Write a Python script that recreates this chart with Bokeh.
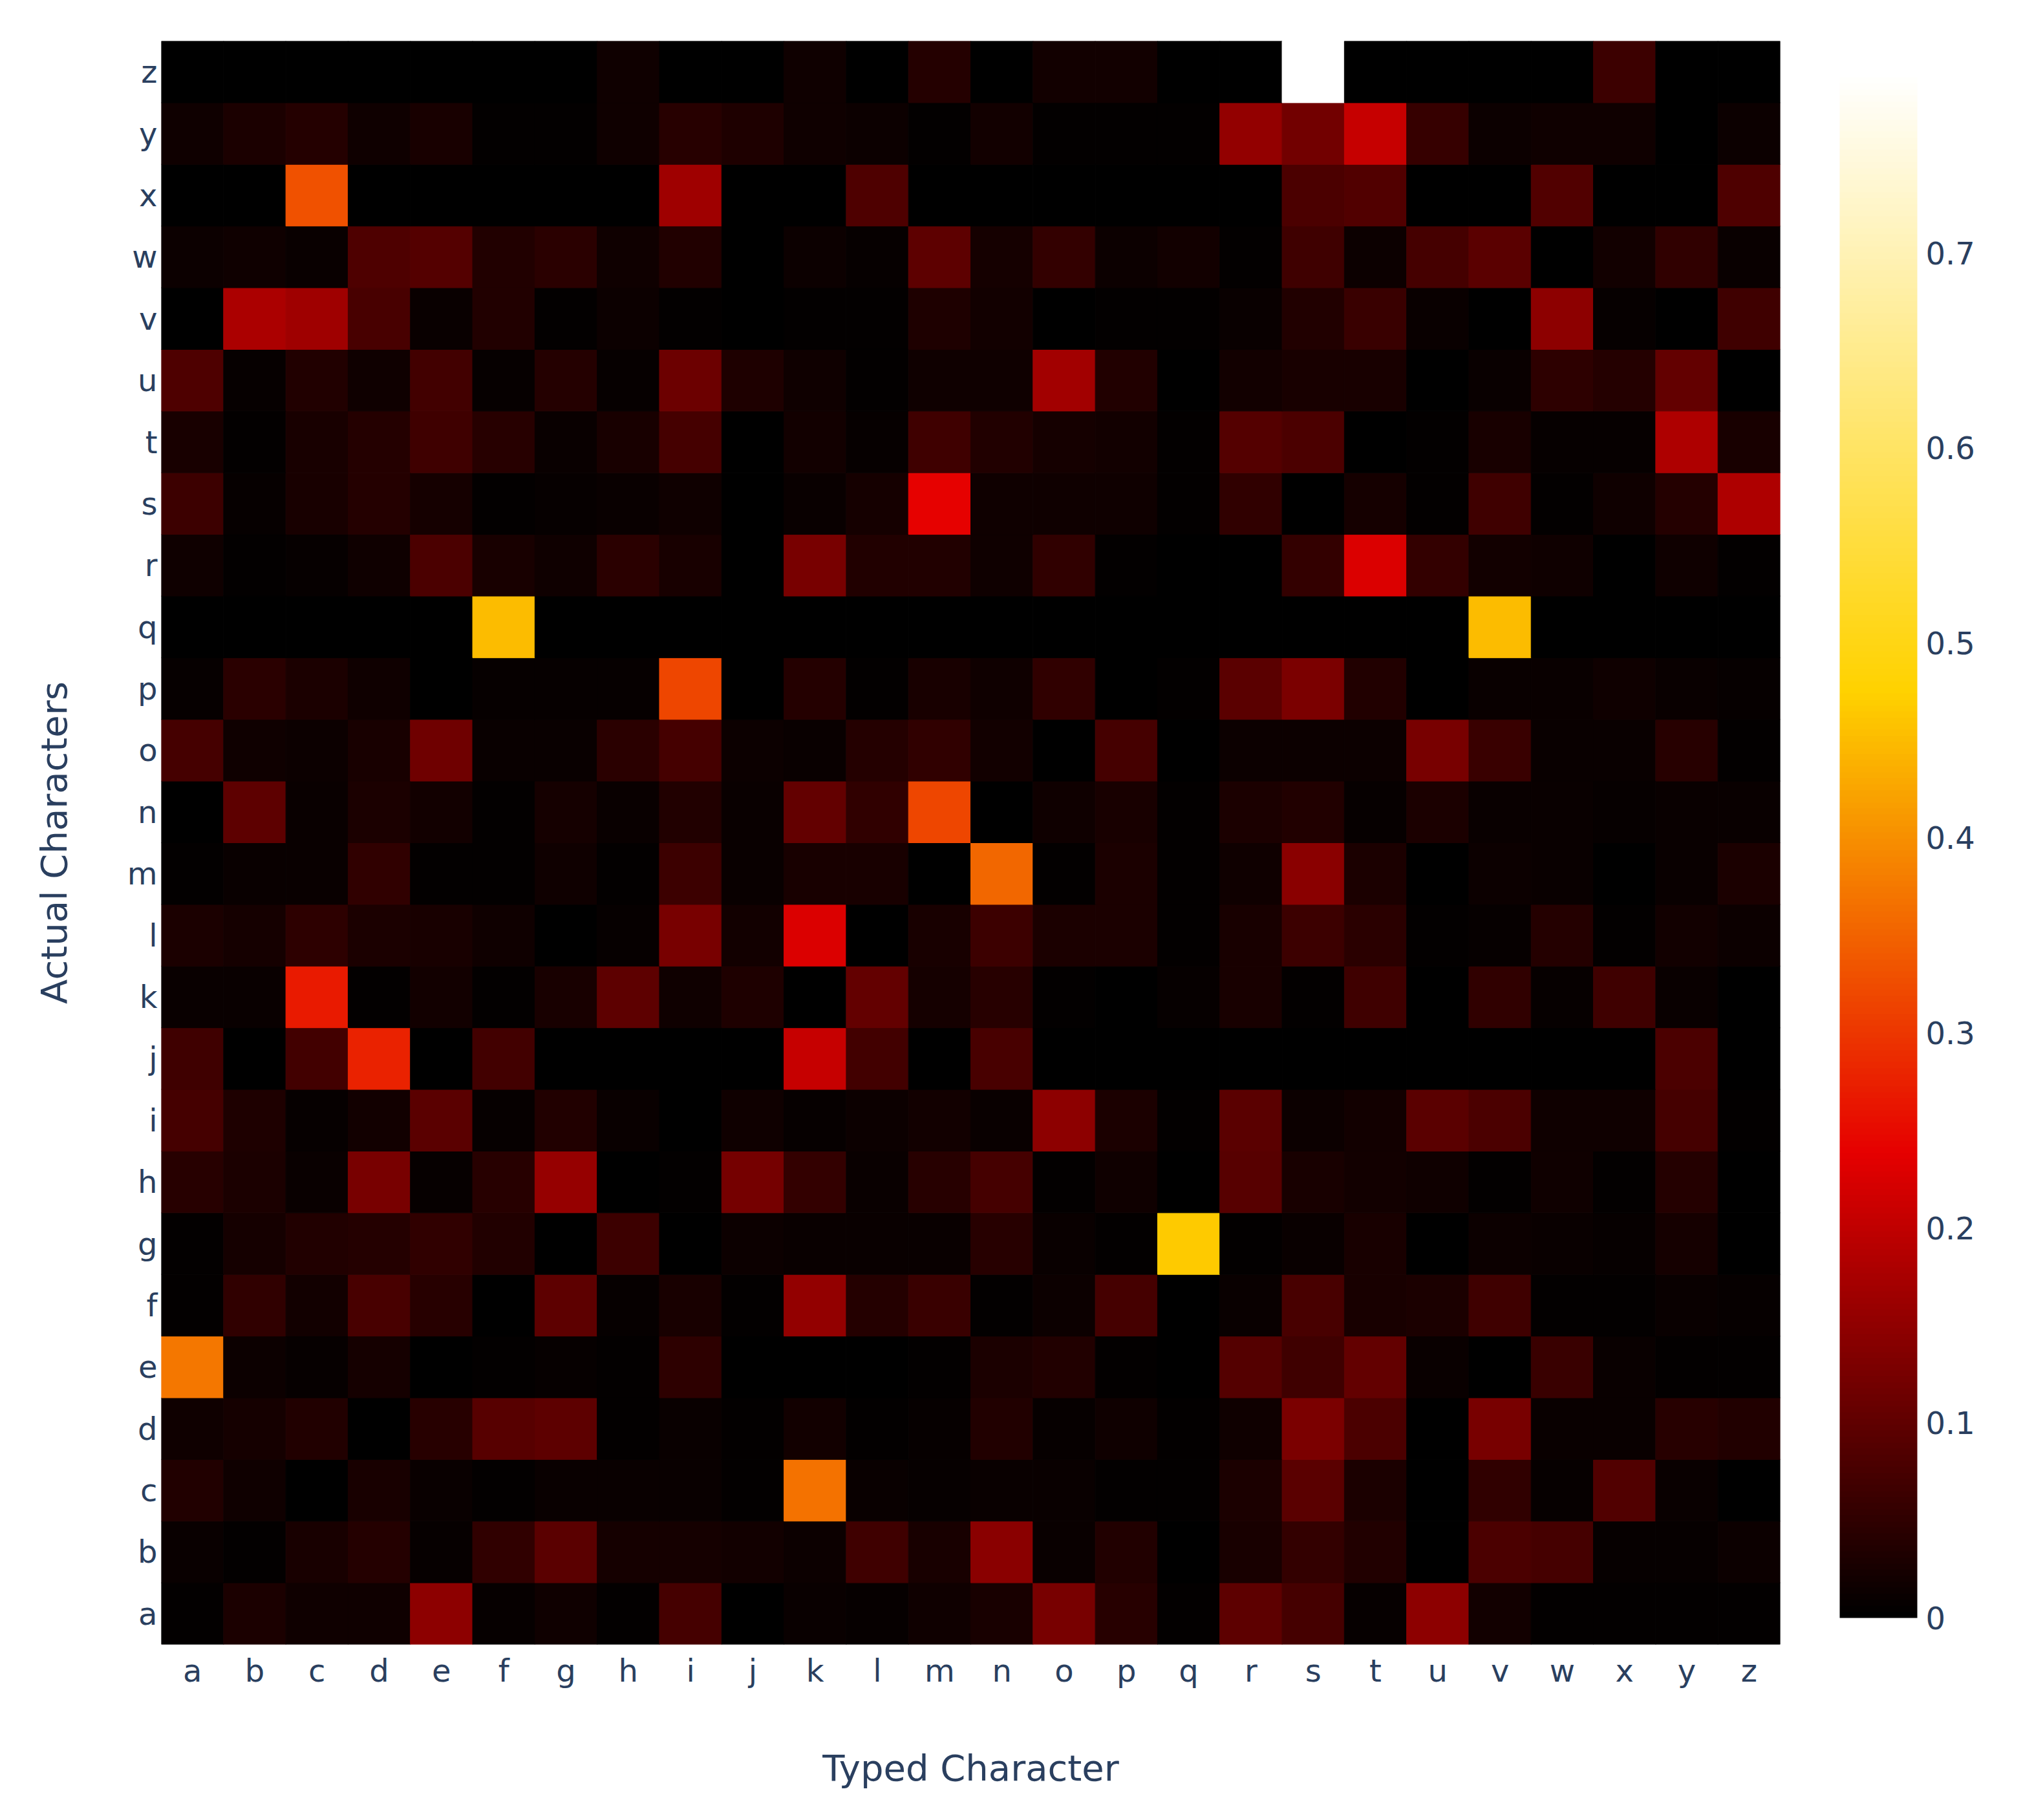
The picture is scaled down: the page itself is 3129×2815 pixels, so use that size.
import numpy as np
from bokeh.plotting import figure
from bokeh.models import (ColumnDataSource, LinearColorMapper, ColorBar,
                          FixedTicker, CustomJSTickFormatter)
from bokeh.embed import file_html
from bokeh.resources import INLINE

# ---- data -------------------------------------------------------------
letters = list("abcdefghijklmnopqrstuvwxyz")   # typed (x) and actual (y) characters
z_max = 0.793
cbar_ticks = [0, 0.1, 0.2, 0.3, 0.4, 0.5, 0.6, 0.7]

# each row: actual character; values over typed characters a..z
row_a = [.004, .029, .018, .018, .148, .008, .016, .006, .072, .002, .012, .008, .018,
         .025, .124, .043, .006, .097, .072, .008, .146, .020, .006, .006, .006, .006]
row_b = [.010, .004, .027, .040, .008, .050, .093, .022, .022, .020, .014, .066, .027,
         .145, .012, .035, .002, .027, .054, .037, .002, .080, .074, .008, .008, .014]
row_c = [.035, .016, .002, .025, .010, .004, .012, .012, .012, .006, .368, .012, .008,
         .012, .012, .004, .006, .030, .095, .029, .002, .050, .008, .085, .010, .002]
row_d = [.018, .022, .037, .002, .043, .090, .099, .004, .010, .004, .020, .006, .008,
         .037, .008, .018, .004, .016, .128, .078, .002, .124, .010, .012, .043, .035]
row_e = [.372, .014, .008, .022, .002, .006, .008, .006, .047, .002, .002, .002, .006,
         .029, .035, .006, .002, .088, .066, .105, .012, .002, .060, .010, .006, .004]
row_f = [.006, .050, .020, .076, .043, .002, .099, .008, .027, .004, .153, .040, .060,
         .004, .014, .074, .002, .010, .076, .027, .029, .068, .006, .004, .012, .008]
row_g = [.006, .022, .037, .040, .050, .035, .002, .062, .002, .014, .012, .012, .012,
         .043, .012, .004, .465, .004, .012, .025, .002, .014, .010, .008, .022, .002]
row_h = [.043, .029, .010, .124, .008, .043, .157, .002, .006, .122, .055, .012, .043,
         .074, .004, .018, .002, .090, .025, .020, .018, .004, .016, .004, .040, .002]
row_i = [.072, .033, .008, .020, .093, .008, .035, .010, .002, .018, .008, .014, .020,
         .012, .148, .030, .004, .093, .014, .020, .095, .078, .018, .016, .074, .004]
row_j = [.066, .002, .070, .278, .002, .070, .002, .002, .002, .002, .206, .070, .002,
         .076, .002, .002, .002, .002, .002, .002, .002, .002, .002, .002, .078, .002]
row_k = [.010, .010, .269, .004, .020, .004, .027, .097, .016, .033, .002, .103, .022,
         .043, .004, .002, .008, .027, .004, .066, .002, .052, .008, .068, .010, .002]
row_l = [.030, .022, .047, .030, .025, .018, .002, .008, .126, .020, .227, .002, .025,
         .062, .029, .030, .004, .025, .062, .045, .004, .008, .040, .004, .020, .014]
row_m = [.006, .012, .012, .052, .004, .006, .016, .004, .062, .012, .025, .025, .002,
         .354, .004, .030, .004, .018, .145, .030, .002, .014, .012, .002, .012, .030]
row_n = [.002, .097, .010, .029, .020, .004, .022, .012, .035, .012, .105, .052, .318,
         .002, .018, .027, .006, .030, .035, .008, .030, .012, .012, .008, .012, .012]
row_o = [.072, .016, .014, .027, .115, .010, .012, .045, .074, .014, .012, .040, .050,
         .020, .002, .074, .002, .014, .014, .014, .124, .060, .012, .012, .043, .006]
row_p = [.008, .045, .030, .016, .002, .008, .008, .008, .318, .002, .040, .006, .027,
         .018, .052, .002, .004, .093, .128, .037, .002, .012, .012, .018, .012, .008]
row_q = [.001, .001, .001, .001, .001, .450, .001, .001, .001, .001, .001, .001, .001,
         .001, .001, .001, .001, .001, .001, .001, .001, .450, .001, .001, .001, .001]
row_r = [.016, .006, .008, .016, .080, .025, .016, .045, .025, .002, .126, .037, .035,
         .016, .052, .004, .002, .002, .055, .227, .055, .020, .018, .002, .016, .006]
row_s = [.064, .008, .027, .040, .022, .004, .008, .012, .016, .002, .010, .022, .240,
         .018, .016, .016, .004, .050, .002, .022, .004, .066, .006, .016, .040, .180]
row_t = [.027, .006, .027, .040, .066, .043, .012, .027, .072, .002, .020, .008, .066,
         .035, .022, .020, .006, .087, .078, .002, .006, .025, .008, .008, .180, .025]
row_u = [.082, .008, .035, .018, .070, .008, .040, .008, .113, .033, .016, .004, .018,
         .018, .170, .035, .002, .020, .027, .025, .002, .012, .047, .040, .103, .002]
row_v = [.002, .177, .165, .076, .010, .035, .006, .014, .004, .002, .004, .004, .033,
         .020, .002, .004, .004, .010, .035, .060, .010, .002, .148, .008, .002, .066]
row_w = [.014, .016, .010, .082, .088, .035, .045, .018, .035, .002, .014, .008, .097,
         .022, .055, .014, .020, .004, .066, .014, .074, .093, .002, .020, .050, .012]
row_x = [.002, .002, .330, .002, .002, .002, .002, .002, .165, .002, .002, .082, .002,
         .003, .003, .002, .002, .002, .078, .085, .002, .002, .085, .002, .002, .082]
row_y = [.018, .030, .040, .016, .025, .006, .006, .018, .043, .033, .018, .015, .004,
         .020, .006, .004, .004, .153, .120, .206, .058, .014, .018, .018, .002, .014]
row_z = [.002, .002, .000, .000, .000, .000, .000, .018, .002, .002, .018, .002, .040,
         .003, .020, .020, .002, .002, .793, .000, .000, .000, .000, .062, .002, .002]

rows = [row_a, row_b, row_c, row_d, row_e, row_f, row_g, row_h, row_i, row_j, row_k,
        row_l, row_m, row_n, row_o, row_p, row_q, row_r, row_s, row_t, row_u, row_v,
        row_w, row_x, row_y, row_z]

# ---- build source ----------------------------------------------------
xs, ys, vs = [], [], []
for actual, vals in zip(letters, rows):
    for typed, v in zip(letters, vals):
        xs.append(typed)
        ys.append(actual)
        vs.append(v)
src = ColumnDataSource(dict(x=xs, y=ys, v=vs))

# Plotly "Hot" colour scale as a palette
def hot_palette(n=256):
    stops = [0.0, 0.3, 0.6, 1.0]
    cols = [(0, 0, 0), (230, 0, 0), (255, 210, 0), (255, 255, 255)]
    out = []
    for t in np.linspace(0, 1, n):
        for i in range(len(stops) - 1):
            if t <= stops[i + 1] + 1e-12:
                f = (t - stops[i]) / (stops[i + 1] - stops[i])
                c = [round(cols[i][k] + f * (cols[i + 1][k] - cols[i][k])) for k in range(3)]
                out.append("#%02x%02x%02x" % tuple(c))
                break
    return out

mapper = LinearColorMapper(palette=hot_palette(), low=0, high=z_max)

FONT = "DejaVu Sans"
TXT = "#2a3f5f"

p = figure(x_range=letters, y_range=letters,
           frame_width=2504, frame_height=2480,
           output_backend="svg", toolbar_location=None,
           min_border_left=249, min_border_top=63, min_border_bottom=250,
           min_border_right=330, background_fill_color="white",
           border_fill_color="white", outline_line_color=None)

p.rect(x="x", y="y", width=1, height=1, source=src,
       fill_color={"field": "v", "transform": mapper},
       line_color={"field": "v", "transform": mapper}, line_width=1)

p.grid.visible = False
for ax in (p.xaxis[0], p.yaxis[0]):
    ax.axis_line_color = None
    ax.major_tick_line_color = None
    ax.minor_tick_line_color = None
    ax.major_tick_out = 0
    ax.major_label_text_font = FONT
    ax.major_label_text_font_size = "48px"
    ax.major_label_text_color = TXT
    ax.axis_label_text_font = FONT
    ax.axis_label_text_font_size = "56px"
    ax.axis_label_text_font_style = "normal"
    ax.axis_label_text_color = TXT

p.xaxis.axis_label = "Typed Character"
p.yaxis.axis_label = "Actual Characters"
p.xaxis.major_label_standoff = 12
p.yaxis.major_label_standoff = 6
p.xaxis.axis_label_standoff = 87
p.yaxis.axis_label_standoff = 78

cb = ColorBar(color_mapper=mapper, width=120, height=2392,
              padding=0, margin=0, location=(2596, 41),
              ticker=FixedTicker(ticks=cbar_ticks),
              formatter=CustomJSTickFormatter(code="return tick === 0 ? '0' : tick.toFixed(1);"),
              major_label_text_font=FONT, major_label_text_font_size="48px",
              major_label_text_color=TXT,
              major_tick_line_color=None, minor_tick_line_color=None,
              bar_line_color=None, border_line_color=None,
              background_fill_color=None, label_standoff=13)
p.add_layout(cb, "center")

open("out.html", "w").write(file_html(p, INLINE))
